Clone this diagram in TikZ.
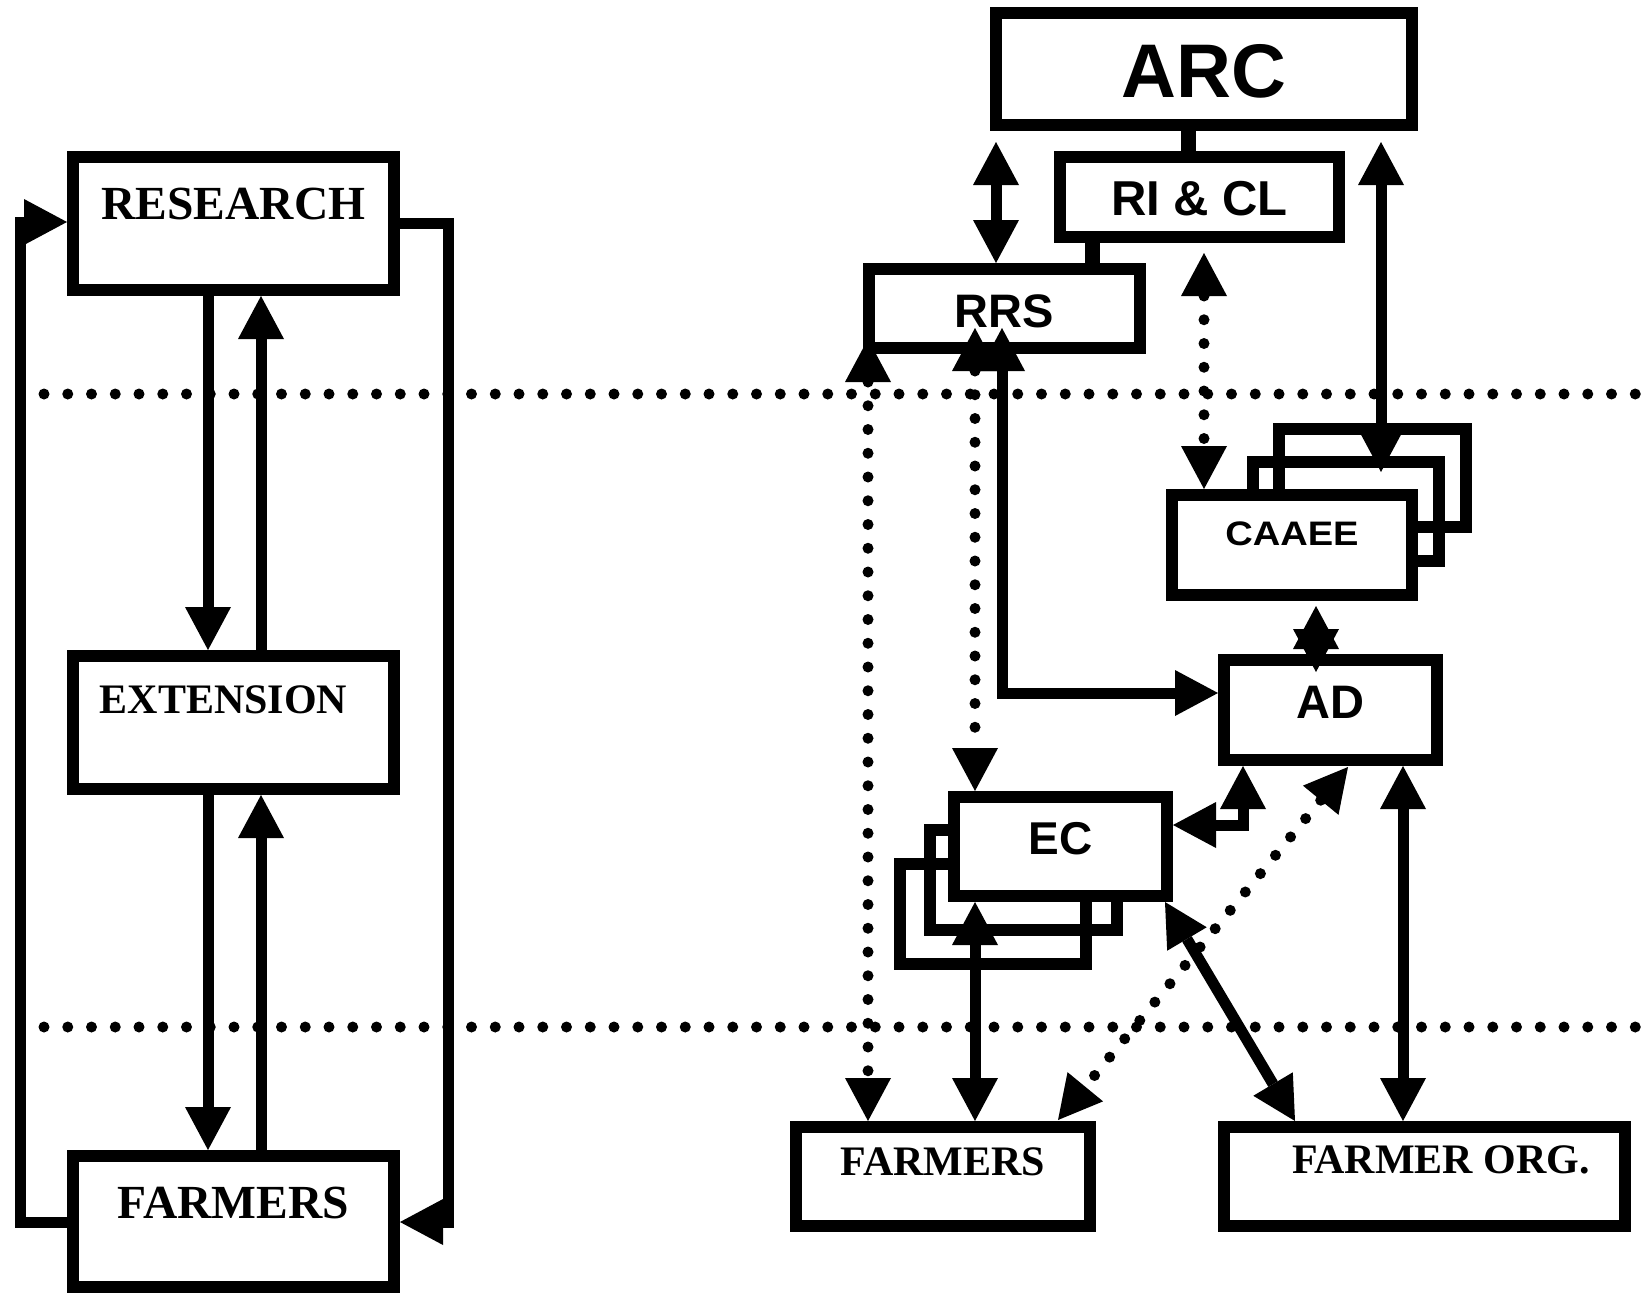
\documentclass[tikz,border=0pt]{standalone}
\usepackage{fontspec}
\setmainfont{Liberation Serif}
\setsansfont{Liberation Sans}
\newfontfamily\caaeefont{Liberation Sans}[FakeStretch=1.12]
\usetikzlibrary{arrows.meta}
\begin{document}
\begin{tikzpicture}[x=1pt,y=-1pt,
  box/.style={draw, line width=12pt, fill=white, inner sep=0pt, outer sep=6pt, anchor=north west, minimum height=0pt},
  backbox/.style={draw, line width=12pt, inner sep=0pt, outer sep=6pt, anchor=north west},
  serifA/.style={font=\bfseries\fontsize{47.5pt}{50pt}\selectfont},
  serifB/.style={font=\bfseries\fontsize{42pt}{44pt}\selectfont},
  sansf/.style={font=\sffamily\bfseries\fontsize{#1}{#1}\selectfont},
  arr/.style={line width=11pt, >={Triangle[length=43pt,width=46pt,line width=0pt]}},
  darr/.style={arr, line width=11pt, line cap=round, dash pattern=on 0pt off 23.75pt},
  dotline/.style={line width=11pt, line cap=round, dash pattern=on 0pt off 23.75pt},
  stub/.style={line width=15pt}]
\useasboundingbox (0,0) rectangle (1641,1293);
\fill[white] (0,0) rectangle (1641,1293);

% dotted separators
\draw[dotline] (44,394) -- (1641,394);
\draw[dotline] (44,1027) -- (1641,1027);

% ---------- left diagram ----------
\node[box, serifA, minimum width=321pt, text height=62pt, text depth=71pt] (research) at (67,151) {RESEARCH};
\node[box, serifB, minimum width=321pt, text height=57pt, text depth=76pt] (extension) at (67,650) {EXTENSION\hspace*{20pt}};
\node[box, serifA, minimum width=321pt, text height=62pt, text depth=69pt] (farmersL) at (67,1150) {FARMERS};

\draw[arr,->] (208,0 |- research.south) -- (208,0 |- extension.north);
\draw[arr,->] (261,0 |- extension.north) -- (261,0 |- research.south);
\draw[arr,->] (208,0 |- extension.south) -- (208,0 |- farmersL.north);
\draw[arr,->] (261,0 |- farmersL.north) -- (261,0 |- extension.south);
\draw[arr,->] (farmersL.west |- 0,1222) -- (20,1222) -- (20,222) -- (research.west |- 0,222);
\draw[arr,->] (research.east |- 0,223) -- (448,223) -- (448,1222) -- (farmersL.east |- 0,1222);

% ---------- right diagram ----------
\node[box, sansf=76pt, minimum width=416pt, text height=84pt, text depth=28pt] (arc) at (990,7) {ARC};
\node[box, sansf=49pt, minimum width=279pt, text height=58pt, text depth=22pt] (ricl) at (1054,151) {RI \& CL};
\node[box, sansf=47pt, minimum width=271pt, text height=58pt, text depth=21pt] (rrs) at (863,263) {RRS};

\node[backbox, minimum width=187pt, minimum height=98pt] (caaee3) at (1273,423) {};
\node[backbox, minimum width=186pt, minimum height=99pt] (caaee2) at (1247,456) {};
\node[box, font=\caaeefont\bfseries\fontsize{34pt}{34pt}\selectfont, minimum width=240pt, text height=50pt, text depth=50pt] (caaee) at (1166,489) {CAAEE};

\node[box, sansf=47pt, minimum width=213pt, text height=58pt, text depth=42pt] (ad) at (1218,654) {AD};

\node[backbox, minimum width=186pt, minimum height=100pt] (ec3) at (894,858) {};
\node[backbox, minimum width=187pt, minimum height=100pt] (ec2) at (924,824) {};
\node[box, sansf=46pt, minimum width=213pt, text height=57pt, text depth=42pt] (ec) at (948,791) {EC};

\node[box, serifB, minimum width=294pt, text height=48pt, text depth=51pt] (farmersR) at (790,1121) {FARMERS};
\node[box, serifB, minimum width=401pt, text height=46pt, text depth=53pt] (farmorg) at (1218,1121) {\hspace*{33pt}FARMER ORG.};

% stubs
\draw[stub] (1188,0 |- arc.south) -- (1188,0 |- ricl.north);
\draw[stub] (1092,0 |- ricl.south) -- (1092,0 |- rrs.north);

% free ends
\coordinate (arcL) at (996,142);
\coordinate (arcR) at (1381,142);
\coordinate (caaeeT) at (1381,472);
\coordinate (riclB) at (1204,253);
\coordinate (rrsA) at (868,339);
\coordinate (rrsB) at (975,328);
\coordinate (rrsC) at (1002,328);
\coordinate (caaeeB) at (1316,606);
\coordinate (adT) at (1316,672);
\coordinate (adD) at (1348,767);
\coordinate (farmD) at (1058,1120);
\coordinate (ecD) at (1165,902);

\draw[arr,<->] (arcL) -- (996,0 |- rrs.north);
\draw[arr,<->] (arcR) -- (caaeeT);
\draw[darr,<->] (riclB) -- (1204,0 |- caaee.north);
\draw[darr,<->] (rrsA) -- (868,0 |- farmersR.north);
\draw[darr,<->] (rrsB) -- (975,0 |- ec.north);
\draw[arr,<->] (rrsC) -- (1002,693) -- (ad.west |- 0,693);
\draw[arr,<->] (caaeeB) -- (adT);
\draw[arr,<->] (1243,0 |- ad.south) -- (1243,825) -- (ec.east |- 0,825);
\draw[darr,<->] (adD) -- (farmD);
\draw[arr,<->] (ecD) -- (1295,0 |- farmorg.north);
\draw[arr,<->] (1403,0 |- ad.south) -- (1403,0 |- farmorg.north);
\draw[arr,<->] (975,0 |- ec.south) -- (975,0 |- farmersR.north);
\end{tikzpicture}
\end{document}
